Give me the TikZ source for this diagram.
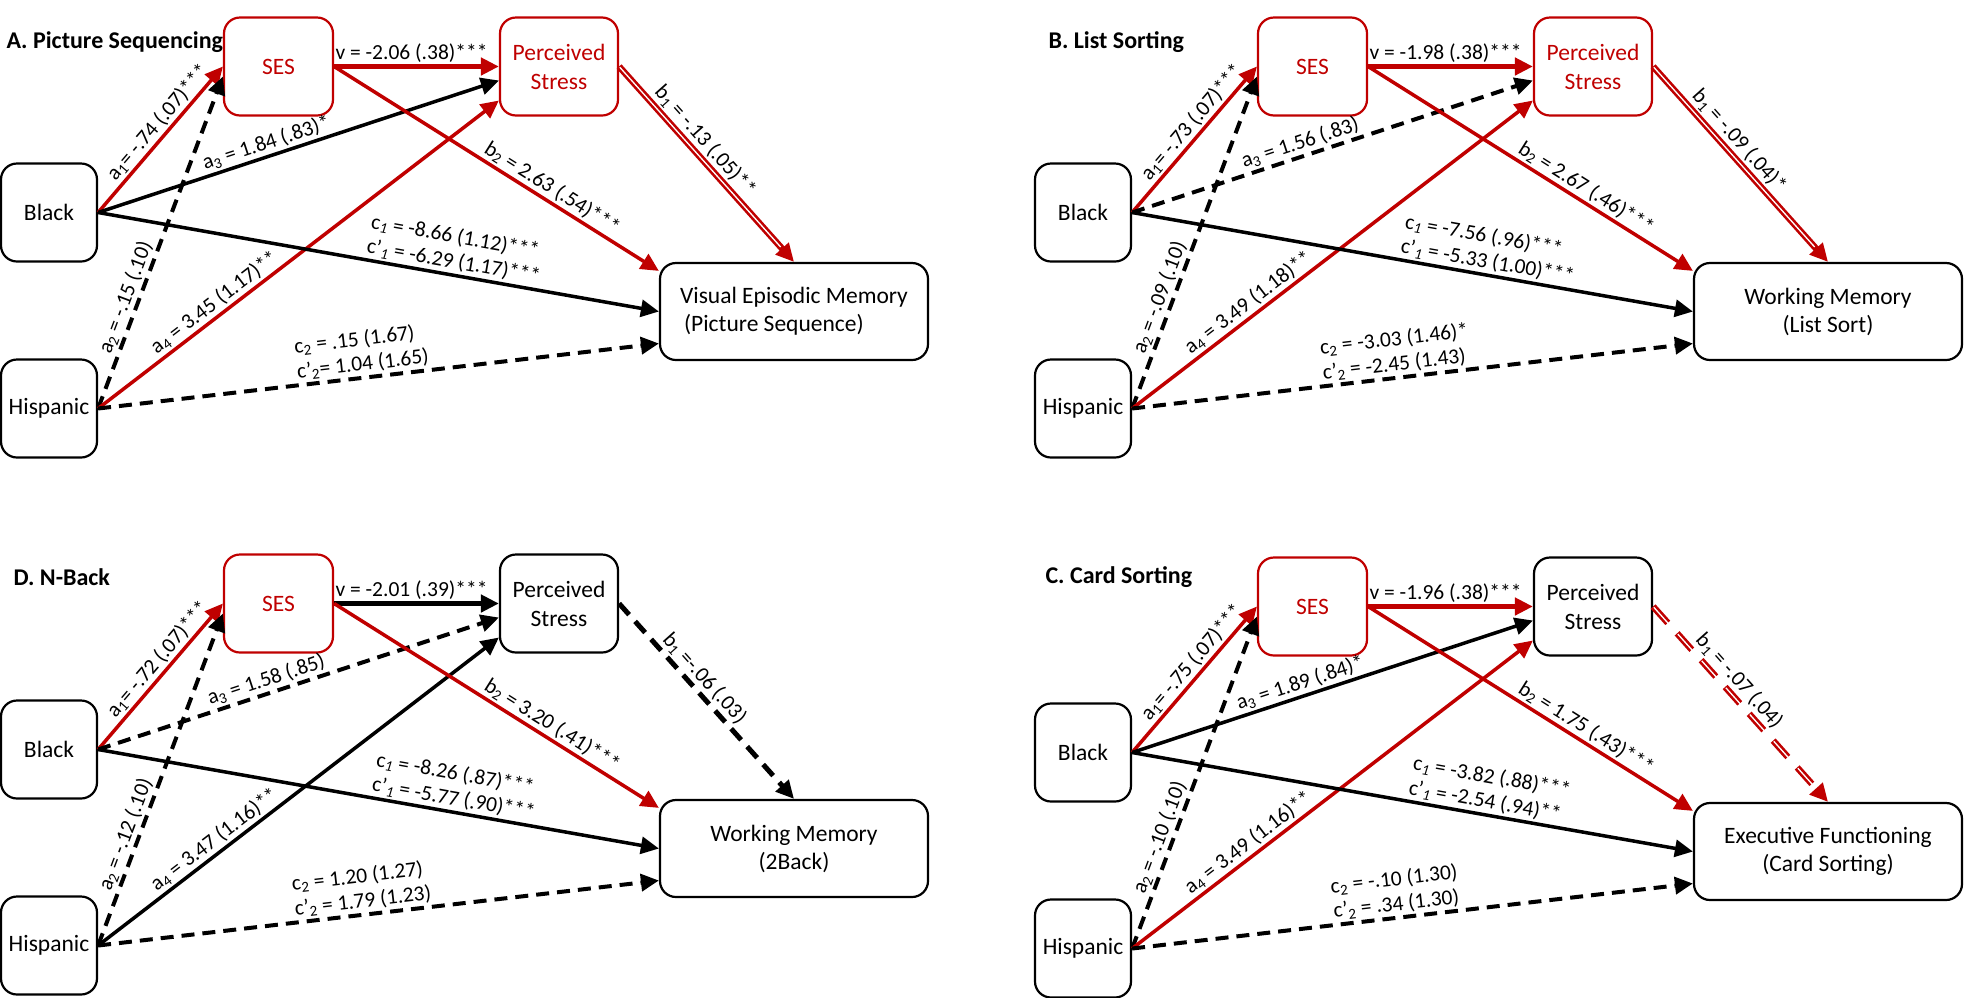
\documentclass[tikz,border=0pt]{standalone}
\usepackage{fontspec}
\setmainfont{Carlito}
\usetikzlibrary{arrows.meta}
\definecolor{pathred}{RGB}{192,0,0}

\begin{document}
\begin{tikzpicture}[x=1pt,y=-1pt,
  box/.style={draw=black,line width=2.2pt,rounded corners=16pt,
    minimum width=96pt,minimum height=98pt,align=center,
    font=\fontsize{23.5}{29}\selectfont},
  redbox/.style={box,draw=pathred,text=pathred},
  outbox/.style={box,minimum width=268pt,minimum height=97pt,
    font=\fontsize{23.5}{28}\selectfont},
  paneltitle/.style={anchor=west,font=\bfseries\fontsize{24}{28}\selectfont},
  lbl/.style={font=\fontsize{21.5}{25}\selectfont,inner sep=2pt,sloped,above},
  link/.style={line width=3.5pt,-{Triangle[length=18pt,width=17pt]}},
  redlink/.style={link,draw=pathred},
  blacklink/.style={link,draw=black},
  dashedlink/.style={line width=4pt,dash pattern=on 13pt off 8pt},
  vlink/.style={line width=5pt},
  twin/.style={line width=6.5pt,
    postaction={draw=white,line width=1.3pt,shorten >=20pt,shorten <=1pt,-}}]
  \useasboundingbox (0,0) rectangle (1968,997);
  \fill[white] (0,0) rectangle (1968,997);

  % A. Picture Sequencing
  \begin{scope}
    \node[paneltitle] (titleA) at (3,42) {A. Picture Sequencing};
    \node[redbox,minimum width=109pt] (sesA) at (278.5,66.5) {SES};
    \node[redbox,minimum width=118pt] (psA) at (559,66.5) {Perceived\\Stress};
    \node[box] (blackA) at (49,212.5) {Black};
    \node[box] (hispA) at (49,408.5) {Hispanic};
    \node[outbox,align=left] (outA) at (794,311.5)
      {Visual Episodic Memory\\\hspace{4pt}(Picture Sequence)};

    \draw[redlink,vlink] (sesA.east) -- node[lbl,pos=.47] (vA)
      {v = -2.06 (.38)***} (psA.west);
    \draw[redlink] (blackA.east) -- node[lbl,pos=.56] (a1A)
      {a\textsubscript{1}= -.74 (.07)***} (sesA.west);
    \draw[blacklink,dashedlink] (hispA.east) -- node[lbl,pos=.32] (a2A)
      {a\textsubscript{2} = -.15 (.10)} ([yshift=-10pt]sesA.west);
    \draw[blacklink] (blackA.east) -- node[lbl,pos=.43] (a3A)
      {a\textsubscript{3} = 1.84 (.83)*} ([yshift=-14pt]psA.west);
    \draw[redlink] (hispA.east) -- node[lbl,pos=.31] (a4A)
      {a\textsubscript{4} = 3.45 (1.17)**} ([yshift=-34pt]psA.west);
    \draw[redlink] (sesA.east) -- node[lbl,pos=.65] (b2A)
      {b\textsubscript{2} = 2.63 (.54)***} ([yshift=-9pt]outA.north west);
    \draw[redlink,twin] (psA.east) -- node[lbl,pos=.43] (b1A)
      {b\textsubscript{1} = -.13 (.05)**} (outA.north);
    \draw[blacklink] (blackA.east) -- node[lbl,pos=.63,align=left] (c1A)
      {c\textsubscript{\textit{1}} = -8.66 (1.12)***\\c’\textsubscript{\textit{1}} = -6.29 (1.17)***}
      (outA.west);
    \draw[blacklink,dashedlink] (hispA.east) -- node[lbl,pos=.475,align=left] (c2A)
      {c\textsubscript{2} = .15 (1.67)\\c’\textsubscript{2}= 1.04 (1.65)}
      ([yshift=-32pt]outA.west);
  \end{scope}

  % B. List Sorting
  \begin{scope}[shift={(1034,0)}]
    \node[paneltitle] (titleB) at (11,42) {B. List Sorting};
    \node[redbox,minimum width=109pt] (sesB) at (278.5,66.5) {SES};
    \node[redbox,minimum width=118pt] (psB) at (559,66.5) {Perceived\\Stress};
    \node[box] (blackB) at (49,212.5) {Black};
    \node[box] (hispB) at (49,408.5) {Hispanic};
    \node[outbox] (outB) at (794,311.5) {Working Memory\\(List Sort)};

    \draw[redlink,vlink] (sesB.east) -- node[lbl,pos=.47] (vB)
      {v = -1.98 (.38)***} (psB.west);
    \draw[redlink] (blackB.east) -- node[lbl,pos=.56] (a1B)
      {a\textsubscript{1}= -.73 (.07)***} (sesB.west);
    \draw[blacklink,dashedlink] (hispB.east) -- node[lbl,pos=.32] (a2B)
      {a\textsubscript{2} = -.09 (.10)} ([yshift=-10pt]sesB.west);
    \draw[blacklink,dashedlink] (blackB.east) -- node[lbl,pos=.43] (a3B)
      {a\textsubscript{3} = 1.56 (.83)} ([yshift=-14pt]psB.west);
    \draw[redlink] (hispB.east) -- node[lbl,pos=.31] (a4B)
      {a\textsubscript{4} = 3.49 (1.18)**} ([yshift=-34pt]psB.west);
    \draw[redlink] (sesB.east) -- node[lbl,pos=.65] (b2B)
      {b\textsubscript{2} = 2.67 (.46)***} ([yshift=-9pt]outB.north west);
    \draw[redlink,twin] (psB.east) -- node[lbl,pos=.43] (b1B)
      {b\textsubscript{1} = -.09 (.04)*} (outB.north);
    \draw[blacklink] (blackB.east) -- node[lbl,pos=.63,align=left] (c1B)
      {c\textsubscript{\textit{1}} = -7.56 (.96)***\\c’\textsubscript{\textit{1}} = -5.33 (1.00)***}
      (outB.west);
    \draw[blacklink,dashedlink] (hispB.east) -- node[lbl,pos=.475,align=left] (c2B)
      {c\textsubscript{2} = -3.03 (1.46)*\\c’\textsubscript{2} = -2.45 (1.43)}
      ([yshift=-32pt]outB.west);
  \end{scope}

  % D. N-Back
  \begin{scope}[shift={(0,537)}]
    \node[paneltitle] (titleD) at (10,40) {D. N-Back};
    \node[redbox,minimum width=109pt] (sesD) at (278.5,66.5) {SES};
    \node[box,minimum width=118pt] (psD) at (559,66.5) {Perceived\\Stress};
    \node[box] (blackD) at (49,212.5) {Black};
    \node[box] (hispD) at (49,408.5) {Hispanic};
    \node[outbox] (outD) at (794,311.5) {Working Memory\\(2Back)};

    \draw[blacklink,vlink] (sesD.east) -- node[lbl,pos=.47] (vD)
      {v = -2.01 (.39)***} (psD.west);
    \draw[redlink] (blackD.east) -- node[lbl,pos=.56] (a1D)
      {a\textsubscript{1}= -.72 (.07)***} (sesD.west);
    \draw[blacklink,dashedlink] (hispD.east) -- node[lbl,pos=.32] (a2D)
      {a\textsubscript{2} = -.12 (.10)} ([yshift=-10pt]sesD.west);
    \draw[blacklink,dashedlink] (blackD.east) -- node[lbl,pos=.43] (a3D)
      {a\textsubscript{3} = 1.58 (.85)} ([yshift=-14pt]psD.west);
    \draw[blacklink] (hispD.east) -- node[lbl,pos=.31] (a4D)
      {a\textsubscript{4} = 3.47 (1.16)**} ([yshift=-34pt]psD.west);
    \draw[redlink] (sesD.east) -- node[lbl,pos=.65] (b2D)
      {b\textsubscript{2} = 3.20 (.41)***} ([yshift=-9pt]outD.north west);
    \draw[blacklink,line width=5pt,dash pattern=on 15pt off 9pt] (psD.east)
      -- node[lbl,pos=.43] (b1D) {b\textsubscript{1} =-.06 (.03)} (outD.north);
    \draw[blacklink] (blackD.east) -- node[lbl,pos=.63,align=left] (c1D)
      {c\textsubscript{\textit{1}} = -8.26 (.87)***\\c’\textsubscript{\textit{1}} = -5.77 (.90)***}
      (outD.west);
    \draw[blacklink,dashedlink] (hispD.east) -- node[lbl,pos=.475,align=left] (c2D)
      {c\textsubscript{2} = 1.20 (1.27)\\c’\textsubscript{2} = 1.79 (1.23)}
      ([yshift=-32pt]outD.west);
  \end{scope}

  % C. Card Sorting
  \begin{scope}[shift={(1034,540)}]
    \node[paneltitle] (titleC) at (8,37) {C. Card Sorting};
    \node[redbox,minimum width=109pt] (sesC) at (278.5,66.5) {SES};
    \node[box,minimum width=118pt] (psC) at (559,66.5) {Perceived\\Stress};
    \node[box] (blackC) at (49,212.5) {Black};
    \node[box] (hispC) at (49,408.5) {Hispanic};
    \node[outbox] (outC) at (794,311.5) {Executive Functioning\\(Card Sorting)};

    \draw[redlink,vlink] (sesC.east) -- node[lbl,pos=.47] (vC)
      {v = -1.96 (.38)***} (psC.west);
    \draw[redlink] (blackC.east) -- node[lbl,pos=.56] (a1C)
      {a\textsubscript{1}= -.75 (.07)***} (sesC.west);
    \draw[blacklink,dashedlink] (hispC.east) -- node[lbl,pos=.32] (a2C)
      {a\textsubscript{2} = -.10 (.10)} ([yshift=-10pt]sesC.west);
    \draw[blacklink] (blackC.east) -- node[lbl,pos=.43] (a3C)
      {a\textsubscript{3} = 1.89 (.84)*} ([yshift=-14pt]psC.west);
    \draw[redlink] (hispC.east) -- node[lbl,pos=.31] (a4C)
      {a\textsubscript{4} = 3.49 (1.16)**} ([yshift=-34pt]psC.west);
    \draw[redlink] (sesC.east) -- node[lbl,pos=.65] (b2C)
      {b\textsubscript{2} = 1.75 (.43)***} ([yshift=-9pt]outC.north west);
    \draw[redlink,twin,dash pattern=on 22pt off 14pt] (psC.east)
      -- node[lbl,pos=.43] (b1C) {b\textsubscript{1} = -.07 (.04)} (outC.north);
    \draw[blacklink] (blackC.east) -- node[lbl,pos=.63,align=left] (c1C)
      {c\textsubscript{\textit{1}} = -3.82 (.88)***\\c’\textsubscript{\textit{1}} = -2.54 (.94)**}
      (outC.west);
    \draw[blacklink,dashedlink] (hispC.east) -- node[lbl,pos=.475,align=left] (c2C)
      {c\textsubscript{2} = -.10 (1.30)\\c’\textsubscript{2} = .34 (1.30)}
      ([yshift=-32pt]outC.west);
  \end{scope}
\end{tikzpicture}
\end{document}
